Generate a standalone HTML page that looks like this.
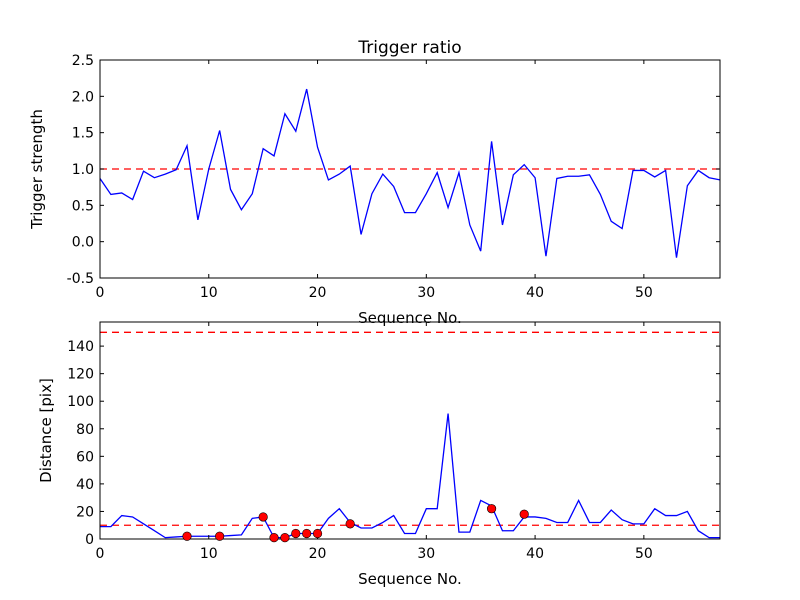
<!DOCTYPE html>
<html><head><meta charset="utf-8"><style>
body{margin:0;background:#fff}
svg{display:block;font-family:"DejaVu Sans","Liberation Sans",sans-serif}
</style></head><body>
<svg id="c" width="800" height="600" viewBox="0 0 800 600"></svg>
<script>
const topValues=[0.87,0.65,0.67,0.58,0.97,0.88,0.93,0.99,1.32,0.30,1.0,1.53,0.72,0.44,0.66,1.28,1.18,1.76,1.52,2.10,1.30,0.85,0.93,1.04,0.10,0.66,0.93,0.76,0.40,0.40,0.66,0.95,0.47,0.95,0.23,-0.13,1.38,0.23,0.92,1.06,0.88,-0.20,0.87,0.90,0.90,0.92,0.65,0.28,0.18,0.98,0.98,0.89,0.98,-0.22,0.77,0.98,0.88,0.85];
const distValues=[9,9,17,16,11,6,1,1.5,2,2,2,2,2.5,3,15,16,1,1,4,4,4,15,22,12,8,8,12,17,4,4,22,22,91,5,5,28,24,6,6,16,16,15,12,12,28,12,12,21,14,11,11,22,17,17,20,6,1,1];
const markerX=[8,11,15,16,17,18,19,20,23,36,39];
const markerY=[2,2,16,1,1,4,4,4,11,22,18];
const xTicks=[0,10,20,30,40,50];
const topYTicks=[-0.5,0.0,0.5,1.0,1.5,2.0,2.5];
const botYTicks=[0,20,40,60,80,100,120,140];
const topThreshold=[1.0];
const botThresholds=[10,150];
const NS="http://www.w3.org/2000/svg";
const svg=document.getElementById('c');
function mk(t,a,p){const e=document.createElementNS(NS,t);for(const k in a)e.setAttribute(k,a[k]);(p||svg).appendChild(e);return e;}
const L=100,R=720,xmax=57;
const sx=v=>L+v*(R-L)/xmax;
function panel(y0,y1,ymin,ymax,ticks,fmt,vals,thr,ylabel,name){
  const sy=v=>y1-(v-ymin)*(y1-y0)/(ymax-ymin);
  const g=mk('g',{});
  
  
  thr.forEach(t=>{const l=mk('line',{x1:L,x2:R,y1:sy(t),y2:sy(t),stroke:'#ff0000','stroke-width':1.3,'stroke-dasharray':'7,5'},g);
    });
  const pts=vals.map((v,i)=>sx(i).toFixed(2)+','+sy(v).toFixed(2)).join(' ');
  const pl=mk('polyline',{points:pts,fill:'none',stroke:'#0000ff','stroke-width':1.3},g);
  
  const fr=mk('rect',{x:L,y:y0,width:R-L,height:y1-y0,fill:'none',stroke:'#000','stroke-width':1},g);
  
  xTicks.forEach(t=>{const x=sx(t);
    mk('line',{x1:x,x2:x,y1:y1,y2:y1-4,stroke:'#000'},g);mk('line',{x1:x,x2:x,y1:y0,y2:y0+4,stroke:'#000'},g);
    const tx=mk('text',{x:x,y:y1+19,'text-anchor':'middle','font-size':14},g);tx.textContent=t;
    });
  ticks.forEach(t=>{const y=sy(t);
    mk('line',{x1:L,x2:L+4,y1:y,y2:y,stroke:'#000'},g);mk('line',{x1:R,x2:R-4,y1:y,y2:y,stroke:'#000'},g);
    const tx=mk('text',{x:L-6,y:y+5,'text-anchor':'end','font-size':14},g);tx.textContent=fmt(t);
    });
  const xl=mk('text',{x:(L+R)/2,y:y1+45,'text-anchor':'middle','font-size':15},g);xl.textContent='Sequence No.';
  
  const cy=(y0+y1)/2;
  const yl=mk('text',{x:0,y:0,'text-anchor':'middle','font-size':15,transform:`translate(${y0<100?42:51},${cy}) rotate(-90)`},g);yl.textContent=ylabel;
  
  return sy;
}
panel(60,278,-0.5,2.5,topYTicks,t=>t.toFixed(1),topValues,topThreshold,'Trigger strength','top-panel');
const sy2=panel(322,539,0,157.5,botYTicks,t=>String(t),distValues,botThresholds,'Distance [pix]','bottom-panel');
markerX.forEach((x,i)=>{const c=mk('circle',{cx:sx(x),cy:sy2(markerY[i]),r:4.3,fill:'#ff0000',stroke:'#000','stroke-width':0.6});
  });
const ti=mk('text',{x:410,y:53,'text-anchor':'middle','font-size':17});ti.textContent='Trigger ratio';

</script>
</body></html>
